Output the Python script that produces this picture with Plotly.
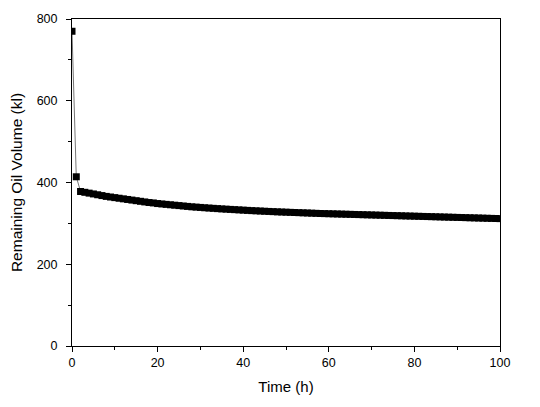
import plotly.graph_objects as go

time_h = list(range(0, 101))
remaining_kl = [
    770, 414, 378, 376, 374, 372, 370, 368, 366, 364.5,
    363, 361.5, 360, 358.5, 357, 355.5, 354, 352.5, 351, 350,
    348.5, 347.5, 346.5, 345.5, 344.5, 343.5, 342.5, 341.5, 340.5, 339.8,
    339, 338.2, 337.5, 336.8, 336.1, 335.4, 334.8, 334.2, 333.6, 333,
    332.4, 331.8, 331.2, 330.7, 330.2, 329.7, 329.2, 328.7, 328.2, 327.8,
    327.4, 327, 326.6, 326.2, 325.8, 325.4, 325, 324.6, 324.2, 323.9,
    323.6, 323.3, 323, 322.7, 322.4, 322.1, 321.8, 321.5, 321.2, 320.9,
    320.6, 320.3, 320, 319.7, 319.4, 319.1, 318.8, 318.5, 318.2, 317.9,
    317.6, 317.3, 317, 316.7, 316.4, 316.1, 315.8, 315.5, 315.2, 314.9,
    314.6, 314.3, 314, 313.7, 313.4, 313.1, 312.8, 312.5, 312.2, 311.9,
    311.6,
]

font_family = "Liberation Sans, Arial, sans-serif"

fig = go.Figure()
fig.add_trace(go.Scatter(
    x=time_h, y=remaining_kl, mode="lines+markers",
    line=dict(color="#777777", width=1),
    marker=dict(symbol="square", size=7, color="black", line=dict(width=0)),
    showlegend=False,
))

axis_common = dict(
    showline=True, linecolor="black", linewidth=1, mirror=True,
    ticks="outside", ticklen=5, tickwidth=1, tickcolor="black",
    showgrid=False, zeroline=False,
    tickfont=dict(family=font_family, size=12.5, color="black"),
)

fig.update_xaxes(
    range=[0, 100], tick0=0, dtick=20,
    minor=dict(ticks="outside", ticklen=3, dtick=10, tickcolor="black", showgrid=False),
    title=dict(text="Time (h)", font=dict(family=font_family, size=15, color="black"), standoff=12),
    **axis_common,
)
fig.update_yaxes(
    range=[0, 800], tick0=0, dtick=200,
    minor=dict(ticks="outside", ticklen=3, dtick=100, tickcolor="black", showgrid=False),
    ticklabelstandoff=6,
    title=dict(text="Remaining Oil Volume (kl)", font=dict(family=font_family, size=15.5, color="black"), standoff=10),
    **axis_common,
)

fig.update_layout(
    width=540, height=407,
    margin=dict(l=72, r=40, t=15, b=61),
    plot_bgcolor="white", paper_bgcolor="white",
    font=dict(family=font_family, color="black"),
)

fig.write_html("out.html")
